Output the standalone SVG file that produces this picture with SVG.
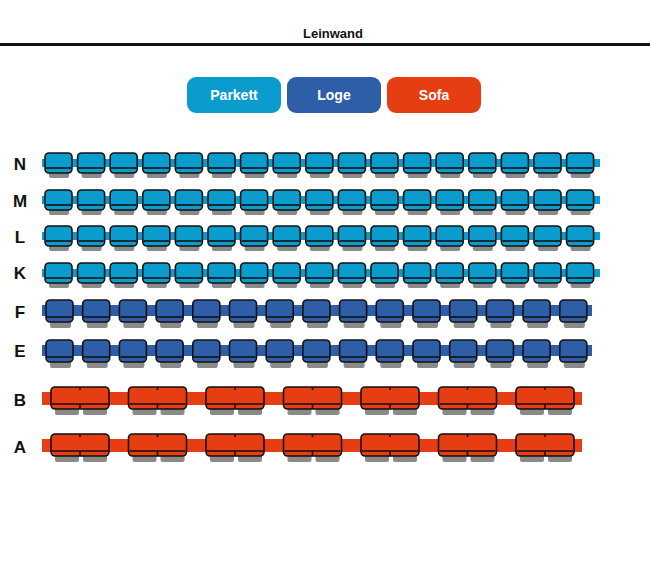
<svg xmlns="http://www.w3.org/2000/svg" xmlns:xlink="http://www.w3.org/1999/xlink" width="650" height="562" viewBox="0 0 650 562">
<style>
text{font-family:"Liberation Sans",Arial,sans-serif;font-weight:bold}
.lbl{font-size:17px;fill:#111;text-anchor:middle}
.btn{font-size:14px;fill:#fff;text-anchor:middle}
.sh{fill:#8a8a8a}
.st{stroke:#111;stroke-width:1.6}
</style>
<defs>
<g id="sp"><rect class="sh" x="5" y="8" width="20" height="18" rx="2"/><rect class="st" x="1" y="1" width="27" height="20" rx="4" fill="#0a9ccc"/><path class="st" d="M2 16H27" fill="none"/></g>
<g id="sl"><rect class="sh" x="5" y="8" width="21" height="21" rx="2"/><rect class="st" x="1" y="1" width="27" height="22" rx="4" fill="#2f5ea8"/><path class="st" d="M2 18H27" fill="none"/></g>
<g id="ss"><rect class="sh" x="5" y="8" width="24" height="21" rx="2"/><rect class="sh" x="33" y="8" width="24" height="21" rx="2"/><rect class="st" x="1" y="1" width="58" height="22" rx="4" fill="#e63d12"/><path class="st" d="M2 18H58M30 1V4M30 18V23" fill="none"/></g>
</defs>
<g id="screen"><text x="333" y="38" font-size="13" text-anchor="middle" fill="#111">Leinwand</text><rect x="0" y="43" width="650" height="3" fill="#111"/></g>
<g id="legend">
<rect x="187" y="77" width="94" height="36" rx="9" fill="#0a9ccc"/><text class="btn" x="234" y="100">Parkett</text>
<rect x="287" y="77" width="94" height="36" rx="9" fill="#2f5ea8"/><text class="btn" x="334" y="100">Loge</text>
<rect x="387" y="77" width="94" height="36" rx="9" fill="#e63d12"/><text class="btn" x="434" y="100">Sofa</text>
</g>
<g id="labels">
<text class="lbl" x="20" y="170">N</text><text class="lbl" x="20" y="207">M</text><text class="lbl" x="20" y="243">L</text><text class="lbl" x="20" y="279">K</text>
<text class="lbl" x="20" y="318">F</text><text class="lbl" x="20" y="357">E</text><text class="lbl" x="20" y="406">B</text><text class="lbl" x="20" y="453">A</text>
</g>
<g id="strips">
<rect x="42" y="159" width="558" height="8" fill="#0a9ccc"/><rect x="42" y="196" width="558" height="8" fill="#0a9ccc"/><rect x="42" y="232" width="558" height="8" fill="#0a9ccc"/><rect x="42" y="269" width="558" height="8" fill="#0a9ccc"/>
<rect x="42" y="305" width="550" height="11" fill="#2f5ea8"/><rect x="42" y="345" width="550" height="11" fill="#2f5ea8"/>
<rect x="42" y="392" width="540" height="13" fill="#e63d12"/><rect x="42" y="439" width="540" height="13" fill="#e63d12"/>
</g>
<g id="rowN"><use href="#sp" x="44" y="152"/><use href="#sp" x="76.6" y="152"/><use href="#sp" x="109.2" y="152"/><use href="#sp" x="141.8" y="152"/><use href="#sp" x="174.4" y="152"/><use href="#sp" x="207" y="152"/><use href="#sp" x="239.6" y="152"/><use href="#sp" x="272.2" y="152"/><use href="#sp" x="304.8" y="152"/><use href="#sp" x="337.4" y="152"/><use href="#sp" x="370" y="152"/><use href="#sp" x="402.6" y="152"/><use href="#sp" x="435.2" y="152"/><use href="#sp" x="467.8" y="152"/><use href="#sp" x="500.4" y="152"/><use href="#sp" x="533" y="152"/><use href="#sp" x="565.6" y="152"/></g>
<g id="rowM"><use href="#sp" x="44" y="189"/><use href="#sp" x="76.6" y="189"/><use href="#sp" x="109.2" y="189"/><use href="#sp" x="141.8" y="189"/><use href="#sp" x="174.4" y="189"/><use href="#sp" x="207" y="189"/><use href="#sp" x="239.6" y="189"/><use href="#sp" x="272.2" y="189"/><use href="#sp" x="304.8" y="189"/><use href="#sp" x="337.4" y="189"/><use href="#sp" x="370" y="189"/><use href="#sp" x="402.6" y="189"/><use href="#sp" x="435.2" y="189"/><use href="#sp" x="467.8" y="189"/><use href="#sp" x="500.4" y="189"/><use href="#sp" x="533" y="189"/><use href="#sp" x="565.6" y="189"/></g>
<g id="rowL"><use href="#sp" x="44" y="225"/><use href="#sp" x="76.6" y="225"/><use href="#sp" x="109.2" y="225"/><use href="#sp" x="141.8" y="225"/><use href="#sp" x="174.4" y="225"/><use href="#sp" x="207" y="225"/><use href="#sp" x="239.6" y="225"/><use href="#sp" x="272.2" y="225"/><use href="#sp" x="304.8" y="225"/><use href="#sp" x="337.4" y="225"/><use href="#sp" x="370" y="225"/><use href="#sp" x="402.6" y="225"/><use href="#sp" x="435.2" y="225"/><use href="#sp" x="467.8" y="225"/><use href="#sp" x="500.4" y="225"/><use href="#sp" x="533" y="225"/><use href="#sp" x="565.6" y="225"/></g>
<g id="rowK"><use href="#sp" x="44" y="262"/><use href="#sp" x="76.6" y="262"/><use href="#sp" x="109.2" y="262"/><use href="#sp" x="141.8" y="262"/><use href="#sp" x="174.4" y="262"/><use href="#sp" x="207" y="262"/><use href="#sp" x="239.6" y="262"/><use href="#sp" x="272.2" y="262"/><use href="#sp" x="304.8" y="262"/><use href="#sp" x="337.4" y="262"/><use href="#sp" x="370" y="262"/><use href="#sp" x="402.6" y="262"/><use href="#sp" x="435.2" y="262"/><use href="#sp" x="467.8" y="262"/><use href="#sp" x="500.4" y="262"/><use href="#sp" x="533" y="262"/><use href="#sp" x="565.6" y="262"/></g>
<g id="rowF"><use href="#sl" x="45" y="299"/><use href="#sl" x="81.7" y="299"/><use href="#sl" x="118.4" y="299"/><use href="#sl" x="155.1" y="299"/><use href="#sl" x="191.8" y="299"/><use href="#sl" x="228.5" y="299"/><use href="#sl" x="265.2" y="299"/><use href="#sl" x="301.9" y="299"/><use href="#sl" x="338.6" y="299"/><use href="#sl" x="375.3" y="299"/><use href="#sl" x="412" y="299"/><use href="#sl" x="448.7" y="299"/><use href="#sl" x="485.4" y="299"/><use href="#sl" x="522.1" y="299"/><use href="#sl" x="558.8" y="299"/></g>
<g id="rowE"><use href="#sl" x="45" y="339"/><use href="#sl" x="81.7" y="339"/><use href="#sl" x="118.4" y="339"/><use href="#sl" x="155.1" y="339"/><use href="#sl" x="191.8" y="339"/><use href="#sl" x="228.5" y="339"/><use href="#sl" x="265.2" y="339"/><use href="#sl" x="301.9" y="339"/><use href="#sl" x="338.6" y="339"/><use href="#sl" x="375.3" y="339"/><use href="#sl" x="412" y="339"/><use href="#sl" x="448.7" y="339"/><use href="#sl" x="485.4" y="339"/><use href="#sl" x="522.1" y="339"/><use href="#sl" x="558.8" y="339"/></g>
<g id="rowB"><use href="#ss" x="50" y="386"/><use href="#ss" x="127.5" y="386"/><use href="#ss" x="205" y="386"/><use href="#ss" x="282.5" y="386"/><use href="#ss" x="360" y="386"/><use href="#ss" x="437.5" y="386"/><use href="#ss" x="515" y="386"/></g>
<g id="rowA"><use href="#ss" x="50" y="433"/><use href="#ss" x="127.5" y="433"/><use href="#ss" x="205" y="433"/><use href="#ss" x="282.5" y="433"/><use href="#ss" x="360" y="433"/><use href="#ss" x="437.5" y="433"/><use href="#ss" x="515" y="433"/></g>
<g id="connectors"/>
</svg>
